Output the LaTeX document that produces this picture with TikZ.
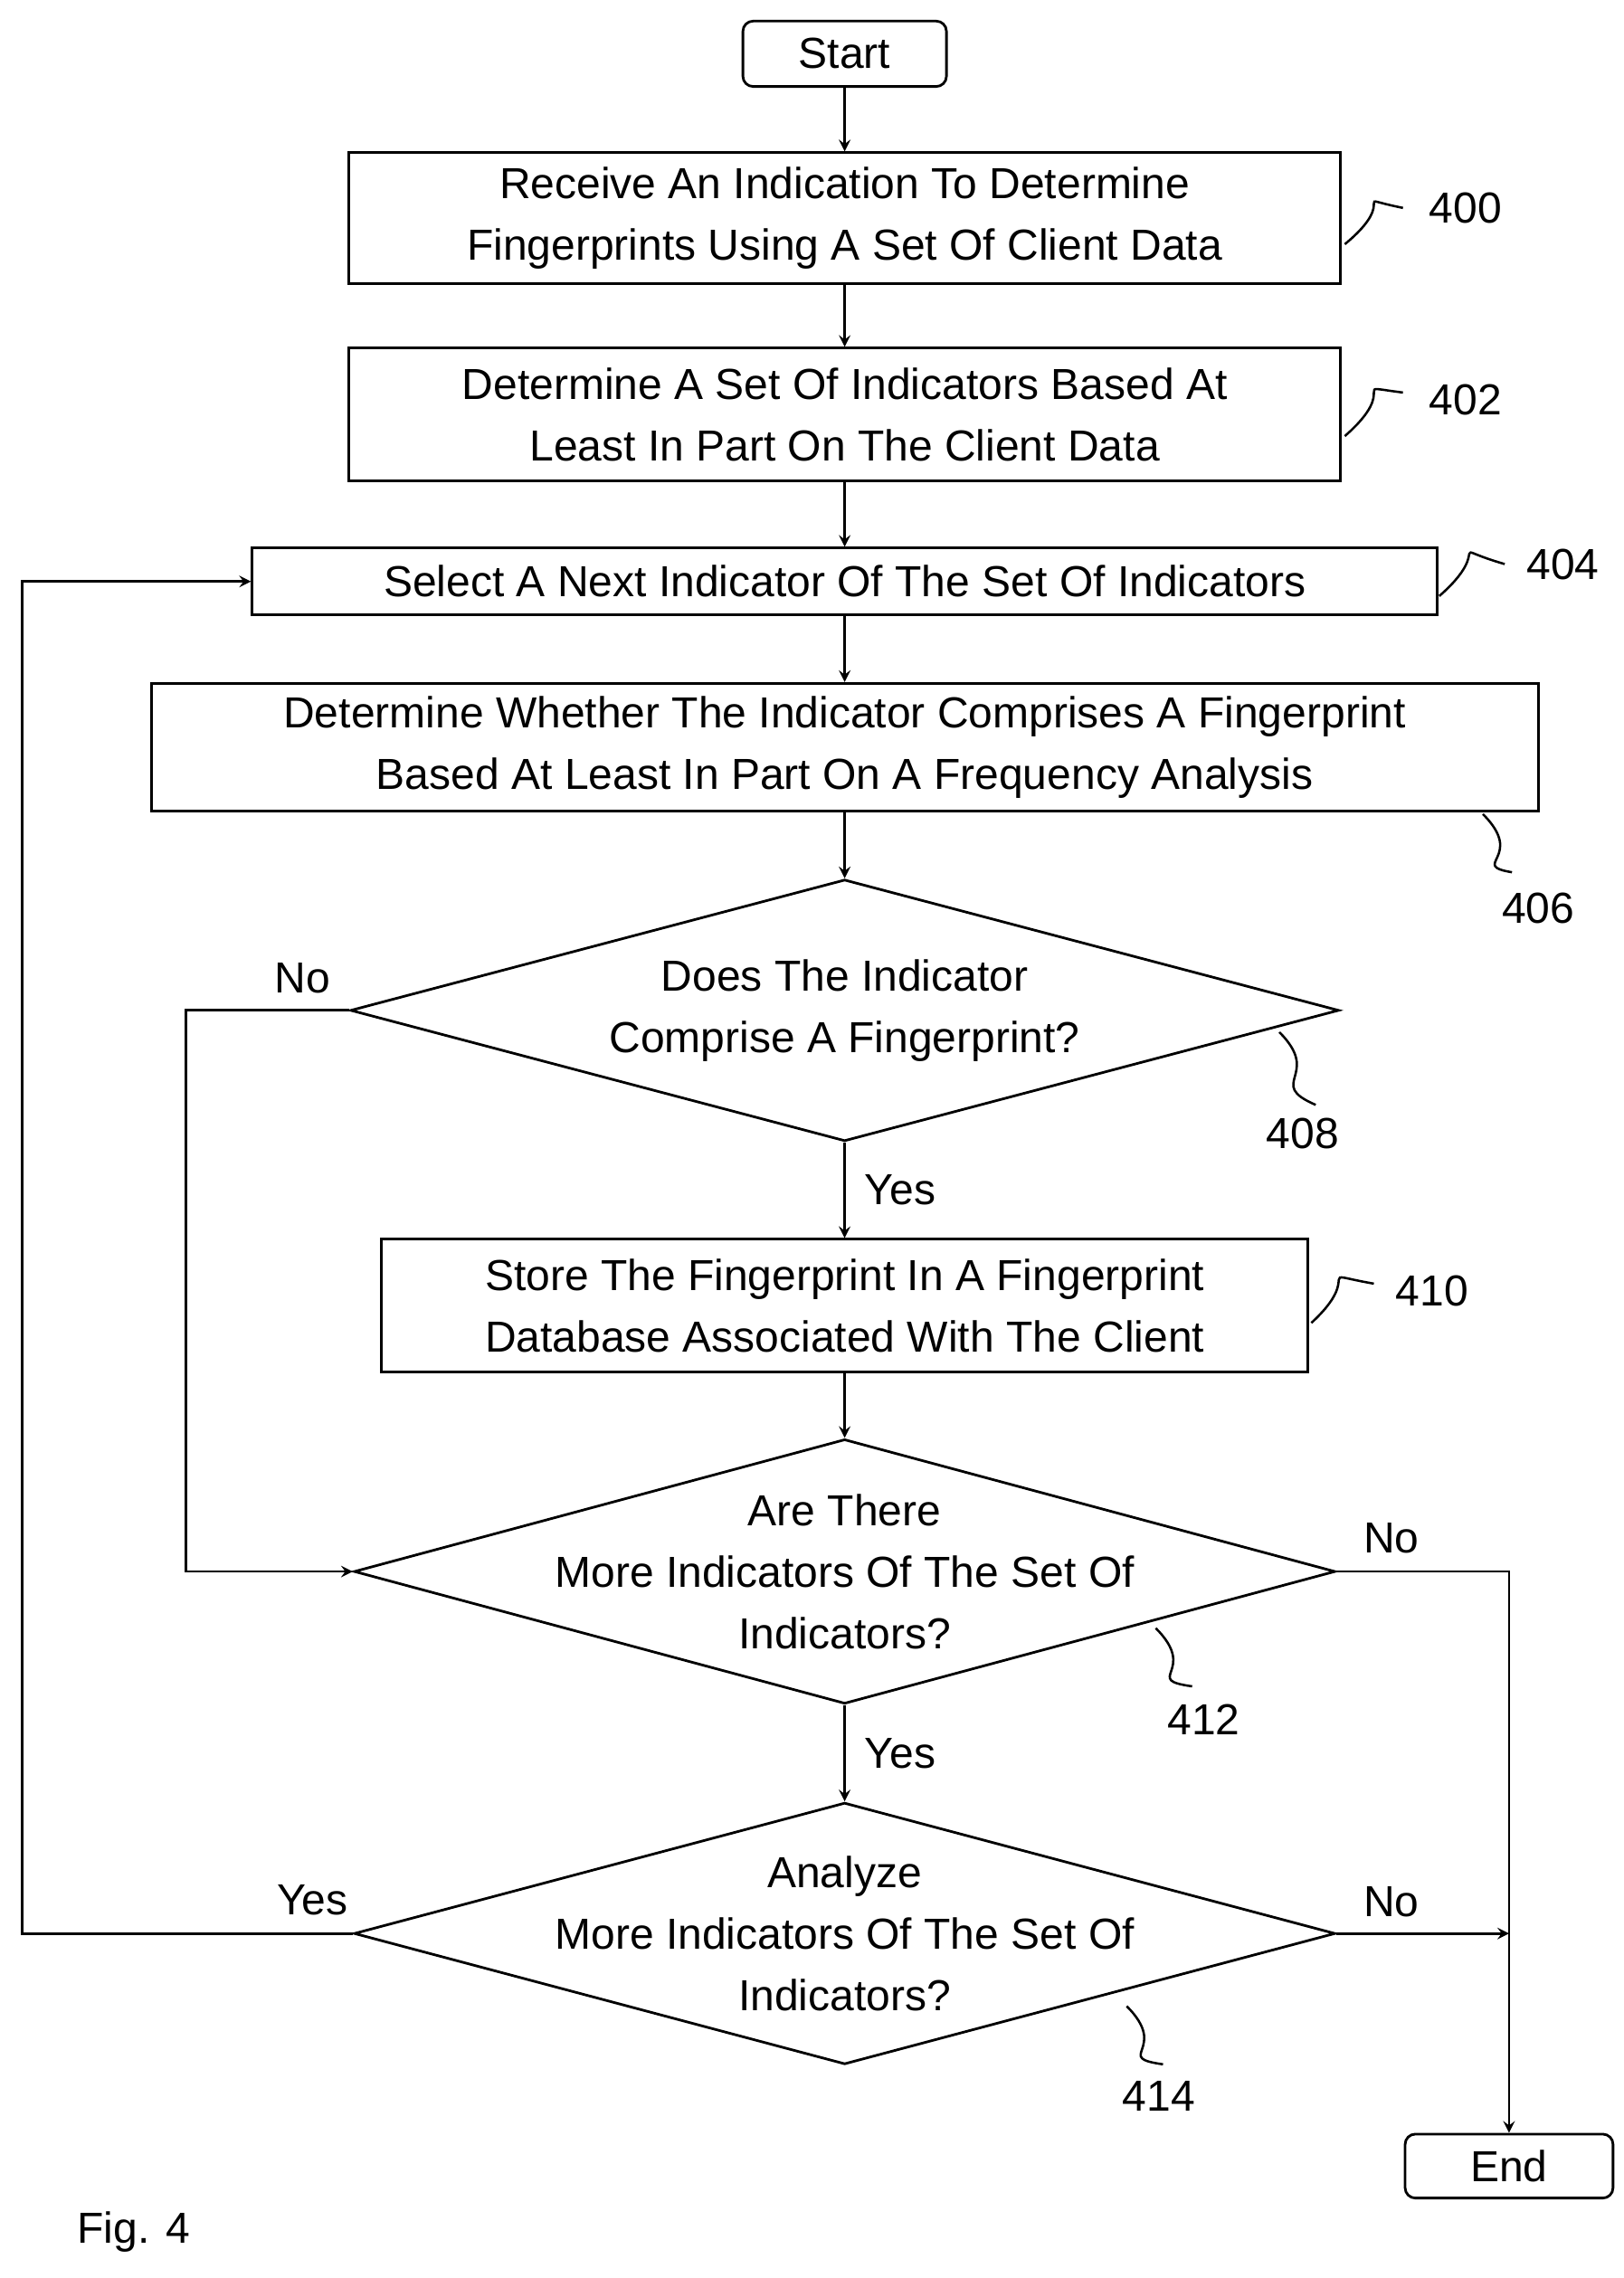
\documentclass[tikz,border=0pt]{standalone}
\usepackage{fontspec}
\setmainfont{Liberation Sans}
\usepackage{pgf, tikz}
\usetikzlibrary{arrows, shapes.geometric}

\begin{document}
\begin{tikzpicture} [align=center, >=stealth, line width=1pt, font=\fontsize{17}{24}\selectfont,
  box/.style={rectangle, draw, inner sep=0pt},
  term/.style={rectangle, rounded corners=4pt, draw, inner sep=0pt, minimum width=2.8cm, minimum height=0.9cm},
  dec/.style={diamond, draw, inner sep=0pt},
  squig/.style={line width=0.9pt}]
\useasboundingbox (0,0) rectangle (22.34,-31.34);
\path (11.62,-0.74) node[term] (start) {Start}
(11.62,-3.0) node[box, minimum width=13.64cm, minimum height=1.8cm] (s400) {Receive An Indication To Determine\\Fingerprints Using A Set Of Client Data}
(11.62,-5.7) node[box, minimum width=13.64cm, minimum height=1.82cm] (s402) {Determine A Set Of Indicators Based At\\Least In Part On The Client Data}
(11.62,-8.0) node[box, minimum width=16.3cm, minimum height=0.92cm] (s404) {Select A Next Indicator Of The Set Of Indicators}
(11.62,-10.28) node[box, minimum width=19.08cm, minimum height=1.76cm] (s406) {Determine Whether The Indicator Comprises A Fingerprint\\Based At Least In Part On A Frequency Analysis}
(11.62,-13.9) node[dec, minimum width=13.6cm, minimum height=3.6cm] (d408) {}
(11.62,-17.96) node[box, minimum width=12.74cm, minimum height=1.82cm] (s410) {Store The Fingerprint In A Fingerprint\\Database Associated With The Client}
(11.62,-21.62) node[dec, minimum width=13.5cm, minimum height=3.64cm] (d412) {}
(11.62,-26.6) node[dec, minimum width=13.5cm, minimum height=3.6cm] (d414) {}
(20.76,-29.8) node[term, minimum width=2.86cm, minimum height=0.88cm] (end) {End}

(0.3,-8.0) coordinate (lt)
(0.3,-26.6) coordinate (lb)
(2.56,-13.9) coordinate (nt)
(2.56,-21.62) coordinate (nb)
(20.76,-21.62) coordinate (rt)
(20.76,-26.6) coordinate (rm);

% diamond texts
\node at (d408) {Does The Indicator\\Comprise A Fingerprint?};
\node at (d412) {Are There\\More Indicators Of The Set Of\\Indicators?};
\node at (d414) {Analyze\\More Indicators Of The Set Of\\Indicators?};

\draw[->] (start) -- (s400);
\draw[->] (s400) -- (s402);
\draw[->] (s402) -- (s404);
\draw[->] (s404) -- (s406);
\draw[->] (s406) -- (d408);
\draw[->] (d408) -- node[right, xshift=4pt] {Yes} (s410);
\draw[->] (s410) -- (d412);
\draw[->] (d412) -- node[right, xshift=4pt] {Yes} (d414);
\draw[->] (d408.west) -- (nt) -- (nb) -- (d412.west);
\draw[->] (d414.west) -- (lb) -- (lt) -- (s404.west);
\draw (d412.east) -- (rt) -- (rm);
\draw[->] (d414.east) -- (rm);
\draw[->] (rm) -- (end);

\path (4.16,-13.46) node (n408) {No}
(19.14,-21.16) node (n412) {No}
(19.14,-26.16) node (n414) {No}
(4.3,-26.14) node (y414) {Yes};

% reference numerals
\path (20.16,-2.86) node (r400) {400}
(20.16,-5.5) node (r402) {402}
(21.5,-7.76) node (r404) {404}
(21.16,-12.5) node (r406) {406}
(17.92,-15.6) node (r408) {408}
(19.7,-17.76) node (r410) {410}
(16.56,-23.66) node (r412) {412}
(15.94,-28.84) node (r414) {414};

\draw[squig] (18.5,-3.36) .. controls (19.3,-2.7) and (18.5,-2.7) .. (19.3,-2.86);
\draw[squig] (18.5,-6.0) .. controls (19.3,-5.3) and (18.5,-5.3) .. (19.3,-5.4);
\draw[squig] (19.8,-8.2) .. controls (20.6,-7.5) and (19.8,-7.5) .. (20.7,-7.76);
\draw[squig] (20.4,-11.2) .. controls (21.0,-11.8) and (20.2,-11.9) .. (20.8,-12.0);
\draw[squig] (17.6,-14.2) .. controls (18.2,-14.8) and (17.4,-14.9) .. (18.1,-15.2);
\draw[squig] (18.04,-18.2) .. controls (18.8,-17.5) and (18.0,-17.5) .. (18.9,-17.66);
\draw[squig] (15.9,-22.4) .. controls (16.5,-23.0) and (15.7,-23.1) .. (16.4,-23.2);
\draw[squig] (15.5,-27.6) .. controls (16.1,-28.2) and (15.3,-28.3) .. (16.0,-28.4);

\node (fig) at (1.84,-30.7) {Fig. 4};
\end{tikzpicture}
\end{document}
